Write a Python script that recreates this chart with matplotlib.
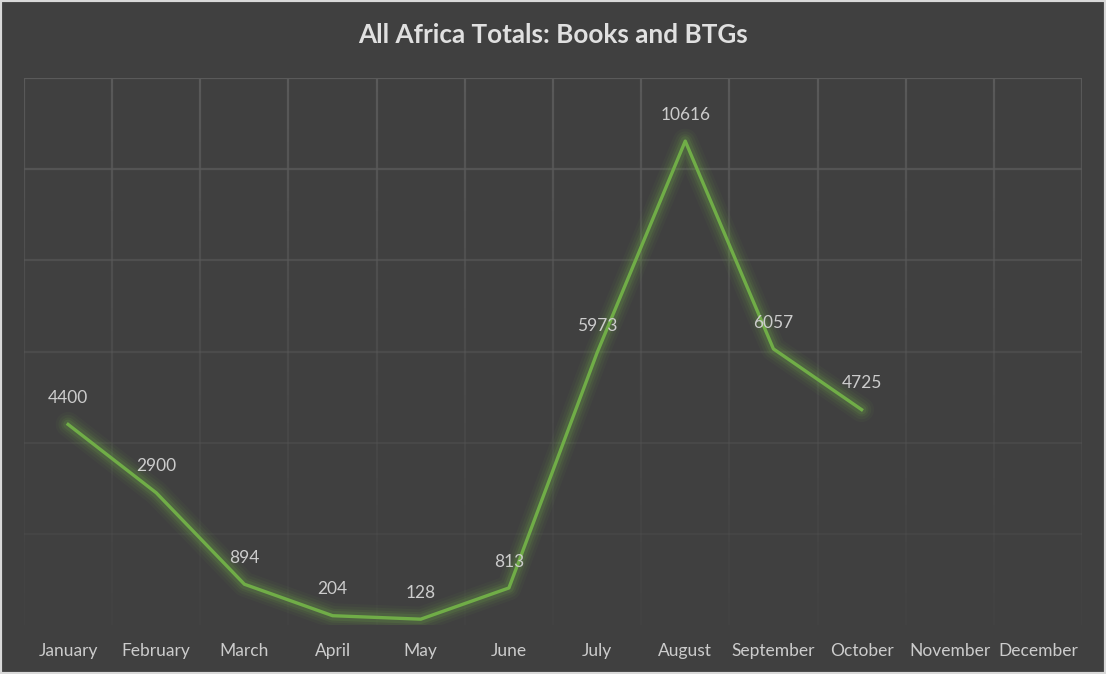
import matplotlib.pyplot as plt
import numpy as np
from matplotlib.collections import LineCollection

months = ['January', 'February', 'March', 'April', 'May', 'June', 'July',
          'August', 'September', 'October', 'November', 'December']
totals = [4400, 2900, 894, 204, 128, 813, 5973, 10616, 6057, 4725]

bg = '#404040'
grid_c = '#5a5a5a'
green = '#70ad47'
text_c = '#cccccc'

plt.rcParams['font.family'] = ['Lato', 'DejaVu Sans']

fig = plt.figure(figsize=(11.06, 6.74), dpi=100, facecolor=bg)
ax = fig.add_axes([24 / 1106, 1 - 625 / 674, 1058 / 1106, 547 / 674])
ax.set_facecolor(bg)
ax.set_xlim(-0.5, len(months) - 0.5)
ax.set_ylim(0, 12000)

# gridlines fade out toward the bottom
yticks = np.arange(0, 12001, 2000)
for yv in yticks[1:]:
    a = 0.15 + 0.85 * (yv / 12000) ** 1.5
    ax.axhline(yv, color=grid_c, lw=1.6, alpha=a, zorder=1)
ys = np.linspace(0, 12000, 120)
for xv in np.arange(-0.5, len(months) + 0.5, 1):
    segs = [[(xv, ys[i]), (xv, ys[i + 1])] for i in range(len(ys) - 1)]
    alphas = 0.1 + 0.9 * (ys[1:] / 12000) ** 1.5
    cols = [(0x5a / 255, 0x5a / 255, 0x5a / 255, a) for a in alphas]
    ax.add_collection(LineCollection(segs, colors=cols, lw=1.6, zorder=1))

x = np.arange(len(totals))
# soft glow under the line
for w, a in [(18, 0.05), (14, 0.07), (10, 0.1), (7, 0.15)]:
    ax.plot(x, totals, color=green, lw=w, alpha=a, solid_capstyle='round',
            solid_joinstyle='round', zorder=2)
ax.plot(x, totals, color=green, lw=2.4, solid_joinstyle='round', zorder=3)

for xi, v in zip(x, totals):
    ax.annotate(str(v), (xi, v), xytext=(0, 19), textcoords='offset points',
                ha='center', va='center', color=text_c, fontsize=12.5, zorder=4)

ax.set_xticks(range(len(months)))
ax.set_xticklabels(months, color=text_c, fontsize=12.5)
ax.tick_params(axis='x', length=0, pad=13)
ax.set_yticks([])
for s in ax.spines.values():
    s.set_visible(False)

fig.text(0.5, 1 - 35 / 674, 'All Africa Totals: Books and BTGs', ha='center',
         va='center', color='#e0e0e0', fontsize=18.8, fontweight='bold')

# outer border
fig.patches.append(plt.Rectangle((0, 0), 1, 1, transform=fig.transFigure,
                                 fill=False, edgecolor='#d9d9d9', lw=3))

fig.savefig('out.png', dpi=100, facecolor=bg)
